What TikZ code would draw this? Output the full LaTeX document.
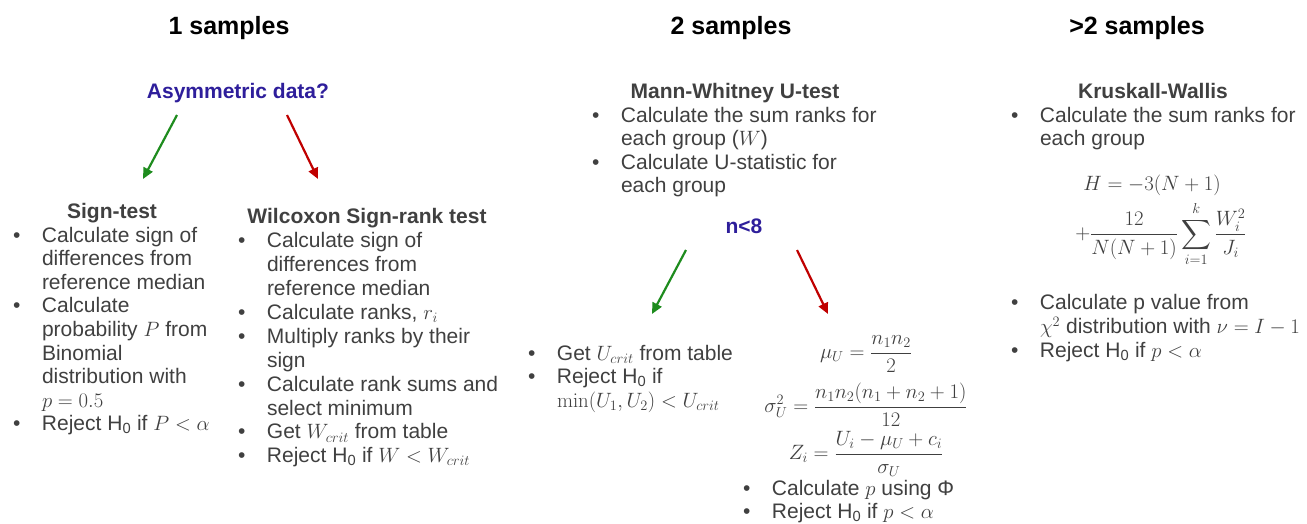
\documentclass[tikz,border=0pt]{standalone}
\usepackage{amsmath}
\usepackage[no-math]{fontspec}
\setmainfont{Liberation Sans}
\usetikzlibrary{arrows.meta}
\definecolor{txt}{RGB}{64,64,64}
\definecolor{purp}{RGB}{46,30,155}
\definecolor{grn}{RGB}{30,140,30}
\definecolor{rd}{RGB}{192,0,0}
\setlength\parindent{0pt}
\newcommand\bl{\llap{\makebox[29pt][l]{•}}}
\newcommand\Hz{H\textsubscript{0}}
\begin{document}
\begin{tikzpicture}[x=1pt,y=-1pt,
  every node/.style={inner sep=0pt,outer sep=0pt},
  title/.style={font=\fontsize{25}{29}\selectfont\bfseries,text=black,anchor=base},
  head/.style={font=\fontsize{21}{24}\selectfont\bfseries,text=txt,anchor=base},
  ques/.style={font=\fontsize{21}{24}\selectfont\bfseries,text=purp,anchor=base},
  blist/.style={font=\fontsize{21}{23.6}\selectfont,text=txt,align=left,anchor=north west},
  eq/.style={font=\fontsize{21}{24}\selectfont,text=txt},
  yesarrow/.style={draw=grn,line width=2.2pt,-{Triangle[length=11pt,width=10pt]}},
  noarrow/.style={draw=rd,line width=2.2pt,-{Triangle[length=11pt,width=10pt]}}]
\fill[white] (0,0) rectangle (1307,523);
\useasboundingbox (0,0) rectangle (1307,523);

% titles
\node[title] (t1) at (229,34) {1 samples};
\node[title] (t2) at (731,34) {2 samples};
\node[title] (t3) at (1137,34) {>2 samples};

% 1 sample
\node[ques] (asym) at (238,98) {Asymmetric data?};
\coordinate (a1s) at (177,115); \coordinate (a1e) at (143,179);
\coordinate (a2s) at (287,115); \coordinate (a2e) at (318,179);
\draw[yesarrow] (a1s) -- (a1e);
\draw[noarrow] (a2s) -- (a2e);

\node[head] (sign) at (112,218) {Sign-test};
\node[blist] (signlist) at (42,225.5) {\strut\bl Calculate sign of\\
differences from\\
reference median\\
\bl Calculate\\
probability $P$ from\\
Binomial\\
distribution with\\
$p=0.5$\\
\bl Reject \Hz{} if $P<\alpha$};

\node[head] (wil) at (367,223) {Wilcoxon Sign-rank test};
\node[blist,font=\fontsize{21}{23.9}\selectfont] (willist) at (267,231) {\strut\bl Calculate sign of\\
differences from\\
reference median\\
\bl Calculate ranks, $r_i$\\
\bl Multiply ranks by their\\
sign\\
\bl Calculate rank sums and\\
select minimum\\
\bl Get $W_{crit}$ from table\\
\bl Reject \Hz{} if $W<W_{crit}$};

% 2 samples
\node[head] (mw) at (735,98) {Mann-Whitney U-test};
\node[blist] (mwlist) at (621,105.5) {\strut\bl Calculate the sum ranks for\\
each group ($W$)\\
\bl Calculate U-statistic for\\
each group};
\node[ques] (n8) at (744,233) {n<8};
\coordinate (b1s) at (686,250); \coordinate (b1e) at (652,314);
\coordinate (b2s) at (797,250); \coordinate (b2e) at (828,314);
\draw[yesarrow] (b1s) -- (b1e);
\draw[noarrow] (b2s) -- (b2e);

\node[blist] (ulist) at (557,343.5) {\strut\bl Get $U_{crit}$ from table\\
\bl Reject \Hz{} if\\
$\min(U_1,U_2)<U_{crit}$};

\node[eq] (mu) at (866,354) {$\displaystyle \mu_U=\frac{n_1n_2}{2}$};
\node[eq] (sig) at (866,405) {$\displaystyle \sigma_U^2=\frac{n_1n_2(n_1+n_2+1)}{12}$};
\node[eq] (z) at (866,454) {$\displaystyle Z_i=\frac{U_i-\mu_U+c_i}{\sigma_U}$};
\node[blist] (zlist) at (772,478.5) {\strut\bl Calculate $p$ using Φ\\
\bl Reject \Hz{} if $p<\alpha$};

% >2 samples
\node[head] (kw) at (1153,98) {Kruskall-Wallis};
\node[blist] (kwlist) at (1040,105.5) {\strut\bl Calculate the sum ranks for\\
each group};
\node[eq] (h1) at (1152,185) {$H=-3(N+1)$};
\node[eq] (h2) at (1161,234) {$\displaystyle +\frac{12}{N(N+1)}\sum_{i=1}^{k}\frac{W_i^2}{J_i}$};
\node[blist] (kwlist2) at (1040,292.5) {\strut\bl Calculate p value from\\
$\chi^2$ distribution with $\nu=I-1$\\
\bl Reject \Hz{} if $p<\alpha$};
\end{tikzpicture}
\end{document}
